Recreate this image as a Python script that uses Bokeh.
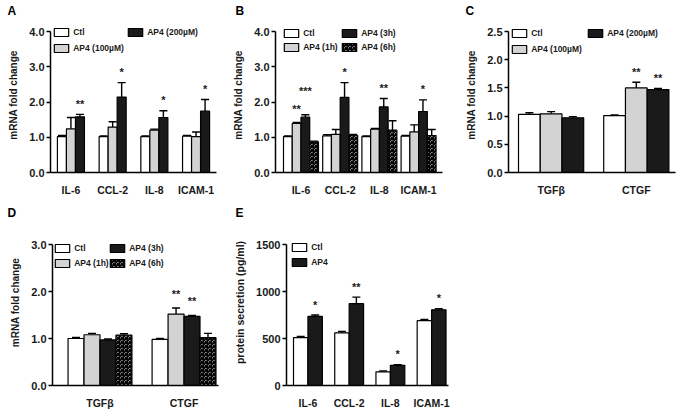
from bokeh.plotting import figure
from bokeh.models import (ColumnDataSource, Range1d, FixedTicker, Whisker, TeeHead,
                          Legend, LegendItem, NumeralTickFormatter)
from bokeh.layouts import row, column
from bokeh.embed import file_html
from bokeh.resources import INLINE

FONT = "Liberation Sans"

# ---------------- data ----------------
cats_cyt = ["IL-6", "CCL-2", "IL-8", "ICAM-1"]
cats_fib = ["TGFβ", "CTGF"]

A_series = ["Ctl", "AP4 (100µM)", "AP4 (200µM)"]
A_ctl = [1.02, 1.02, 1.02, 1.03]
A_ctl_err = [0.03, 0.02, 0.02, 0.02]
A_100 = [1.24, 1.29, 1.20, 1.02]
A_100_err = [0.32, 0.15, 0.03, 0.13]
A_200 = [1.58, 2.14, 1.56, 1.74]
A_200_err = [0.07, 0.41, 0.19, 0.33]
A_stars_200 = ["**", "*", "*", "*"]

B_series = ["Ctl", "AP4 (1h)", "AP4 (3h)", "AP4 (6h)"]
B_ctl = [1.02, 1.04, 1.02, 1.03]
B_ctl_err = [0.02, 0.03, 0.02, 0.02]
B_1h = [1.39, 1.08, 1.23, 1.15]
B_1h_err = [0.03, 0.14, 0.02, 0.20]
B_3h = [1.57, 2.13, 1.86, 1.73]
B_3h_err = [0.07, 0.42, 0.24, 0.33]
B_6h = [0.87, 1.05, 1.20, 1.05]
B_6h_err = [0.02, 0.03, 0.27, 0.17]
B_stars_1h = ["**", "", "", ""]
B_stars_3h = ["***", "*", "**", "*"]

C_series = ["Ctl", "AP4 (100µM)", "AP4 (200µM)"]
C_ctl = [1.03, 1.01]
C_ctl_err = [0.03, 0.01]
C_100 = [1.04, 1.50]
C_100_err = [0.04, 0.10]
C_200 = [0.97, 1.47]
C_200_err = [0.02, 0.02]
C_stars_100 = ["", "**"]
C_stars_200 = ["", "**"]

D_series = ["Ctl", "AP4 (1h)", "AP4 (3h)", "AP4 (6h)"]
D_ctl = [1.00, 0.98]
D_ctl_err = [0.02, 0.02]
D_1h = [1.08, 1.52]
D_1h_err = [0.03, 0.13]
D_3h = [0.97, 1.47]
D_3h_err = [0.02, 0.02]
D_6h = [1.07, 1.02]
D_6h_err = [0.03, 0.09]
D_stars_1h = ["", "**"]
D_stars_3h = ["", "**"]

E_series = ["Ctl", "AP4"]
E_ctl = [510, 560, 145, 690]
E_ctl_err = [12, 15, 10, 12]
E_ap4 = [735, 870, 215, 805]
E_ap4_err = [15, 70, 5, 12]
E_stars_ap4 = ["*", "**", "*", "*"]

WHITE = "#ffffff"
GREY = "#d3d3d3"
BLACK = "#1a1a1a"
STYLE = {
    "Ctl": dict(fill_color=WHITE),
    "AP4 (100µM)": dict(fill_color=GREY),
    "AP4 (200µM)": dict(fill_color=BLACK),
    "AP4 (1h)": dict(fill_color=GREY),
    "AP4 (3h)": dict(fill_color=BLACK),
    "AP4 (6h)": dict(fill_color=WHITE, hatch_pattern="criss_cross", hatch_color="black",
                     hatch_scale=4, hatch_weight=1.3),
    "AP4": dict(fill_color=BLACK),
}


def make_panel(letter, cats, series, vals, errs, stars, ytop, yticks, yfmt, ylabel,
               width, height, page_x, page_y, frame, xlim, bar_w, legends, star_px,
               letter_x, ext, ylabel_size="10px", star_lift=None):
    fl, fr, ft, fb = frame  # frame page coords (ft = position of the top tick)
    ft_ext = ft - ext       # invisible head-room above the top tick (holds legend + letter)
    y_end = ytop * (fb - ft_ext) / (fb - ft)
    p = figure(width=width, height=height, x_range=Range1d(*xlim), y_range=Range1d(0, y_end),
               output_backend="svg", toolbar_location=None,
               min_border_left=fl - page_x, min_border_right=page_x + width - fr,
               min_border_top=ft_ext - page_y, min_border_bottom=page_y + height - fb)
    p.outline_line_color = None
    p.background_fill_color = "white"
    p.border_fill_color = "white"
    p.xgrid.visible = False
    p.ygrid.visible = False

    n = len(series)
    idx = list(range(len(cats)))
    renderers = {}
    for k, s in enumerate(series):
        off = (k - (n - 1) / 2) * bar_w
        xs = [i + off for i in idx]
        src = ColumnDataSource(dict(x=xs, top=vals[k], lower=vals[k],
                                    upper=[v + e for v, e in zip(vals[k], errs[k])]))
        r = p.vbar(x="x", top="top", bottom=0, width=bar_w, source=src,
                   line_color="black", line_width=1.2, **STYLE[s])
        renderers[s] = r
        w = Whisker(source=src, base="x", lower="lower", upper="upper", dimension="height",
                    line_color="black", line_width=1.4,
                    upper_head=TeeHead(size=8, line_color="black", line_width=1.4),
                    lower_head=None)
        p.add_layout(w)
        if stars[k] is not None:
            lift = star_lift[k] if star_lift and star_lift[k] is not None else [0] * len(cats)
            ssrc = ColumnDataSource(dict(
                x=xs, y=[v + e for v, e in zip(vals[k], errs[k])], t=stars[k],
                yo=[-(star_px + l - 0.6) for l in lift]))
            p.text(x="x", y="y", text="t", source=ssrc, y_offset="yo",
                   text_align="center", text_baseline="alphabetic",
                   text_font={"value": FONT}, text_font_style="bold",
                   text_font_size="11px", text_color="#1a1a1a")

    for ax in (p.xaxis[0], p.yaxis[0]):
        ax.axis_line_width = 1.5
        ax.axis_line_color = "black"
        ax.major_label_text_font = FONT
        ax.major_label_text_font_style = "bold"
        ax.major_label_text_color = "#1a1a1a"
        ax.minor_tick_line_color = None
    xa = p.xaxis[0]
    xa.ticker = FixedTicker(ticks=idx)
    xa.major_label_overrides = {i: c for i, c in enumerate(cats)}
    xa.major_tick_line_color = None
    xa.major_label_text_font_size = "10.5px"
    xa.major_label_standoff = 5
    ya = p.yaxis[0]
    ya.bounds = (0, ytop)
    ya.ticker = FixedTicker(ticks=yticks)
    ya.formatter = NumeralTickFormatter(format=yfmt)
    ya.major_tick_out = 4
    ya.major_tick_in = 0
    ya.major_tick_line_width = 1.5
    ya.major_label_text_font_size = "11px"
    ya.major_label_standoff = 2
    ya.axis_label = ylabel
    ya.axis_label_text_font = FONT
    ya.axis_label_text_font_style = "bold"
    ya.axis_label_text_font_size = ylabel_size
    ya.axis_label_text_color = "#1a1a1a"
    ya.axis_label_standoff = 7

    gw, gh, rh = 18, 10, 10
    for (names, box_left, row1_c, spacing) in legends:
        items = [LegendItem(label=nm, renderers=[renderers[nm]]) for nm in names]
        nrow = len(names)
        top = row1_c - rh / 2
        bottom = top + nrow * rh + (nrow - 1) * spacing
        vx = box_left - 0.1 * gw - fl
        vy = fb - bottom
        leg = Legend(items=items, location=(vx, vy), orientation="vertical",
                     glyph_width=gw, glyph_height=gh, label_height=rh, label_width=10,
                     label_standoff=3, spacing=spacing, padding=0, margin=0,
                     border_line_color=None, background_fill_alpha=0,
                     label_text_font=FONT, label_text_font_style="bold",
                     label_text_font_size="8.5px", label_text_color="#1a1a1a")
        p.add_layout(leg)

    p.title.text = letter
    p.title.align = "left"
    p.title.offset = -(fl - (letter_x - 3))
    p.title.standoff = 0
    p.title.text_font = FONT
    p.title.text_font_style = "bold"
    p.title.text_font_size = "12px"
    p.title.text_color = "black"
    return p


pA = make_panel("A", cats_cyt, A_series, [A_ctl, A_100, A_200],
                [A_ctl_err, A_100_err, A_200_err], [None, None, A_stars_200],
                4.0, [0, 1, 2, 3, 4], "0.0", "mRNA fold change",
                230, 200, 0, 0, (50, 216, 31, 172), (-0.49, 3.49), 0.216,
                [(["Ctl", "AP4 (100µM)"], 54, 32, 6), (["AP4 (200µM)"], 128, 32, 6)], 11,
                10, 14)

pB = make_panel("B", cats_cyt, B_series, [B_ctl, B_1h, B_3h, B_6h],
                [B_ctl_err, B_1h_err, B_3h_err, B_6h_err], [None, B_stars_1h, B_stars_3h, None],
                4.0, [0, 1, 2, 3, 4], "0.0", "mRNA fold change",
                225, 200, 230, 0, (275, 442, 31, 172), (-0.65, 3.61), 0.223,
                [(["Ctl", "AP4 (1h)"], 284, 33, 4), (["AP4 (3h)", "AP4 (6h)"], 342, 33, 4)], 11,
                238, 14, star_lift=[None, [3, 0, 0, 0], [13, 0, 0, 0], None])

pC = make_panel("C", cats_fib, C_series, [C_ctl, C_100, C_200],
                [C_ctl_err, C_100_err, C_200_err], [None, C_stars_100, C_stars_200],
                2.5, [0, 0.5, 1, 1.5, 2, 2.5], "0.0", "mRNA fold change",
                232, 200, 455, 0, (508, 675, 31, 172), (-0.5, 1.46), 0.255,
                [(["Ctl", "AP4 (100µM)"], 512, 33, 6), (["AP4 (200µM)"], 588, 33, 6)], 11,
                468, 14)

pD = make_panel("D", cats_fib, D_series, [D_ctl, D_1h, D_3h, D_6h],
                [D_ctl_err, D_1h_err, D_3h_err, D_6h_err], [None, D_stars_1h, D_stars_3h, None],
                3.0, [0, 1, 2, 3], "0.0", "mRNA fold change",
                230, 212, 0, 200, (52, 218, 244, 385), (-0.565, 1.41), 0.19,
                [(["Ctl", "AP4 (1h)"], 55, 248, 5), (["AP4 (3h)", "AP4 (6h)"], 110, 248, 5)], 15,
                10, 25)

pE = make_panel("E", cats_cyt, E_series, [E_ctl, E_ap4],
                [E_ctl_err, E_ap4_err], [None, E_stars_ap4],
                1500, [0, 500, 1000, 1500], "0", "protein secretion (pg/ml)",
                225, 212, 230, 200, (286, 448, 244, 385), (-0.52, 3.41), 0.35,
                [(["Ctl", "AP4"], 292, 247, 5)], 11,
                238, 25, ylabel_size="10.5px")

layout = column(row(pA, pB, pC), row(pD, pE))
open("out.html", "w").write(file_html(layout, INLINE))
